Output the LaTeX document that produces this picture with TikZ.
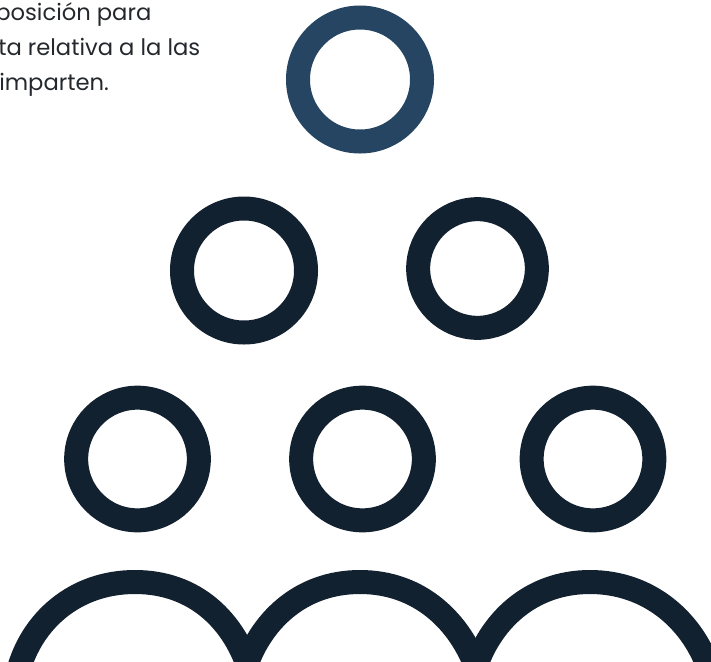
\documentclass[tikz,border=0pt]{standalone}
\usepackage{fontspec}
\setmainfont{Poppins}
\definecolor{navy}{HTML}{12212F}
\definecolor{steel}{HTML}{264562}
\definecolor{caption}{HTML}{24282D}
\tikzset{
  ringdark/.style={circle,draw=navy,line width=18pt,inner sep=0pt,outer sep=0pt,fill=none},
  ringtop/.style={ringdark,draw=steel},
  headarc/.style={draw=navy,line width=18pt,line cap=butt,line join=miter},
  captiontext/.style={anchor=base west,text=caption,font=\fontsize{17pt}{17pt}\selectfont,inner sep=0pt}
}
\begin{document}
\begin{tikzpicture}[x=0.75pt,y=-0.75pt]
\useasboundingbox (0,0) rectangle (711,661);
\clip (0,0) rectangle (711,661);
\node[captiontext] (l1) at (-5,20) {posición para};
\node[captiontext] (l2) at (-2,55) {ta relativa a la las};
\node[captiontext] (l3) at (-1,90) {imparten.};
\node[ringtop,minimum size=93pt] (top) at (360,79.5) {};
\node[ringdark,minimum size=93pt] (m1) at (244,270.5) {};
\node[ringdark,minimum size=89pt] (m2) at (477.5,268.5) {};
\node[ringdark,minimum size=92pt] (b1) at (137.5,459) {};
\node[ringdark,minimum size=92pt] (b2) at (362.5,459) {};
\node[ringdark,minimum size=92pt] (b3) at (593,459) {};
\draw[headarc] (18,672) .. controls (31,622) and (74,582) .. (135,582) .. controls (196,582) and (235,622) .. (250,672);
\draw[headarc] (244,672) .. controls (259,622) and (300,582) .. (360,582) .. controls (420,582) and (461,622) .. (478,672);
\draw[headarc] (474,672) .. controls (489,622) and (530,582) .. (590,582) .. controls (650,582) and (694,622) .. (710,672);
\end{tikzpicture}
\end{document}
